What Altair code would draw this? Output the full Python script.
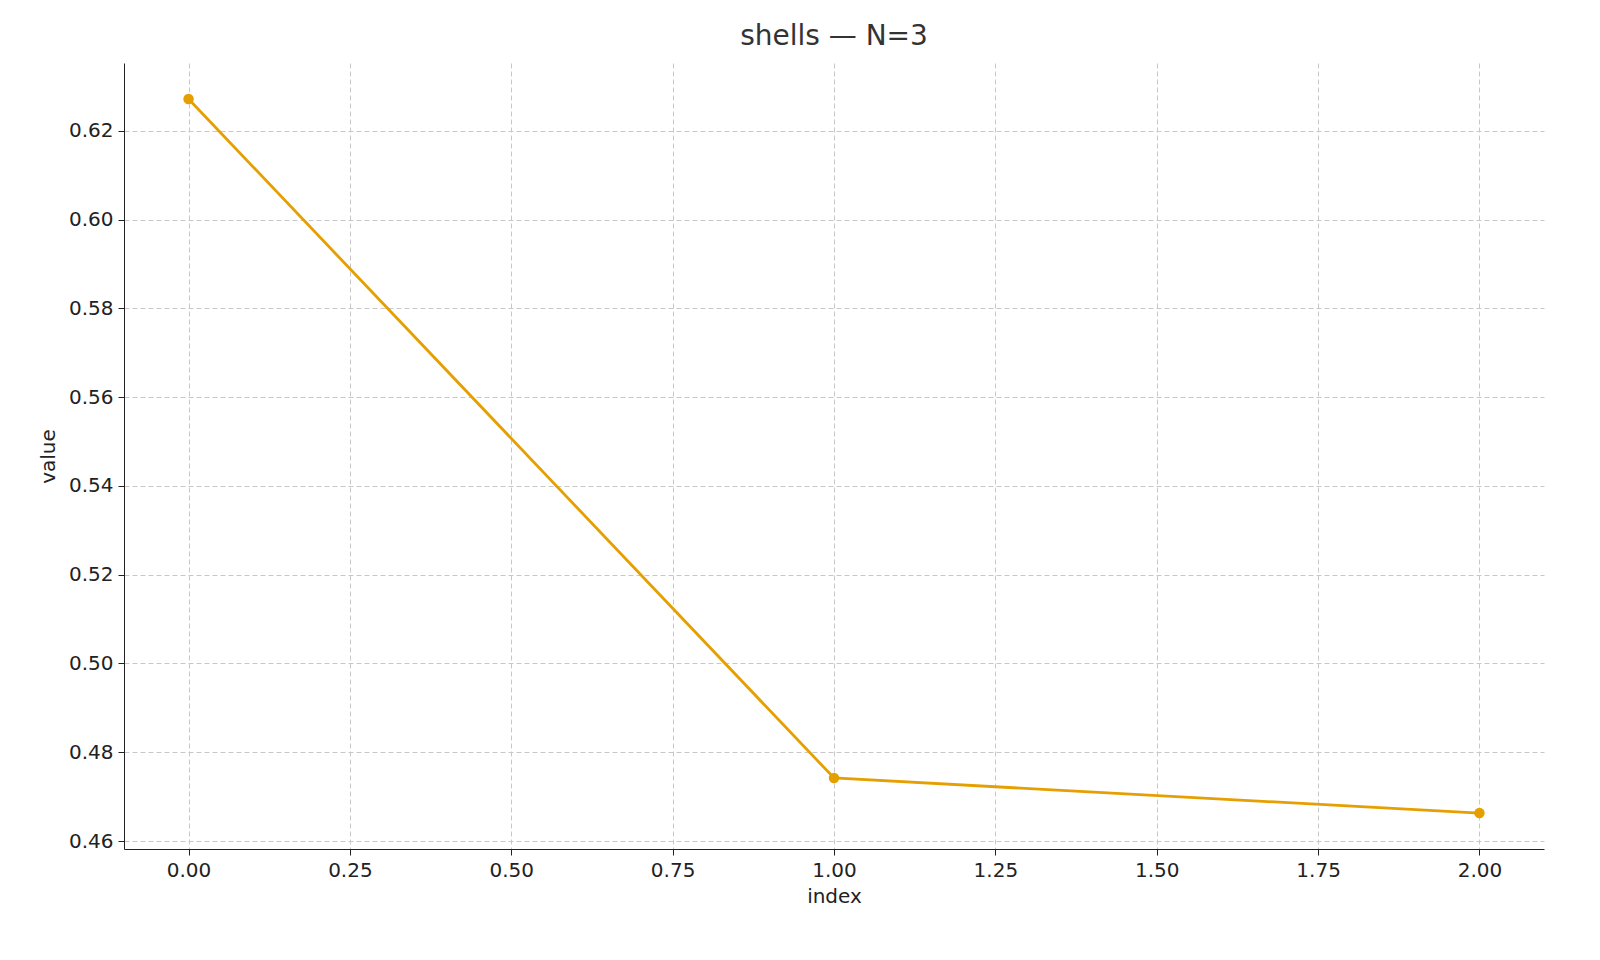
import altair as alt
import pandas as pd

idx = [0, 1, 2]
vals = [0.6272, 0.4742, 0.4663]
df = pd.DataFrame({"index": idx, "value": vals})

font = "DejaVu Sans"
x = alt.X("index:Q", title="index",
          scale=alt.Scale(domain=[-0.1, 2.1], nice=False, zero=False),
          axis=alt.Axis(values=[0, 0.25, 0.5, 0.75, 1, 1.25, 1.5, 1.75, 2], format=".2f", titlePadding=6))
y = alt.Y("value:Q", title="value",
          scale=alt.Scale(domain=[0.4582, 0.6353], nice=False, zero=False),
          axis=alt.Axis(values=[0.46, 0.48, 0.50, 0.52, 0.54, 0.56, 0.58, 0.60, 0.62], format=".2f", titlePadding=10))

base = alt.Chart(df).encode(x=x, y=y)
chart = (base.mark_line(color="#E69F00", strokeWidth=2.8) +
         base.mark_circle(color="#E69F00", size=110, opacity=1)).properties(
    width=1420, height=786,
    title=alt.TitleParams("shells — N=3", fontSize=28, font=font, fontWeight="normal", color="#333333", offset=12),
    autosize=alt.AutoSizeParams(type="none"),
    padding={"left": 116, "top": 55, "right": 20, "bottom": 80},
).configure_view(stroke=None).configure_axis(
    labelFont=font, titleFont=font, labelFontSize=20, titleFontSize=20,
    labelColor="#222222", titleColor="#222222", titleFontWeight="normal",
    grid=True, gridDash=[5, 3], gridColor="#c8c8c8", domainColor="#222222",
    tickColor="#222222", tickSize=6, labelPadding=5,
)

chart.save("out.html", embed_options={"renderer": "svg", "actions": False})
